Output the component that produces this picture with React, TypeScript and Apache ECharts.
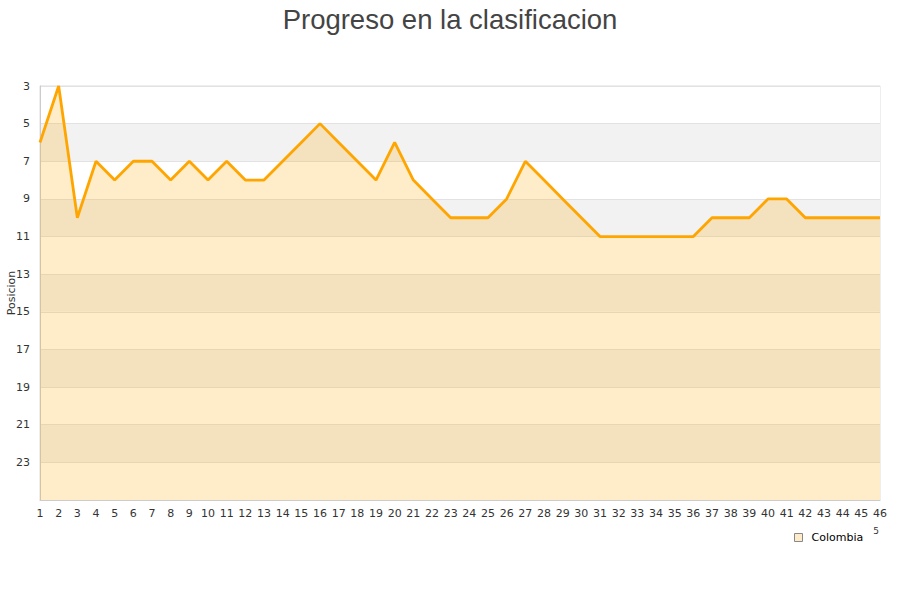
import React, { useEffect, useRef } from "react";
import * as echarts from "echarts";

const jornadas: string[] = Array.from({ length: 46 }, (_, i) => String(i + 1));
const posiciones: number[] = [
  6, 3, 10, 7, 8, 7, 7, 8, 7, 8,
  7, 8, 8, 7, 6, 5, 6, 7, 8, 6,
  8, 9, 10, 10, 10, 9, 7, 8, 9, 10,
  11, 11, 11, 11, 11, 11, 10, 10, 10, 9,
  9, 10, 10, 10, 10, 10,
];
const seriesName = "Colombia";
const titleText = "Progreso en la clasificacion";
const yAxisName = "Posicion";
const strayText = "5";

export default function App() {
  const ref = useRef<HTMLDivElement>(null);
  useEffect(() => {
    if (!ref.current) return;
    const chart = echarts.init(ref.current, undefined, { renderer: "svg" });
    chart.setOption({
      animation: false,
      backgroundColor: "#fff",
      title: {
        text: titleText,
        left: "center",
        top: 0,
        textStyle: {
          fontFamily: "Liberation Sans, Arial, sans-serif",
          fontSize: 27.5,
          fontWeight: "normal",
          color: "#444",
        },
      },
      graphic: [
        {
          type: "text",
          x: 11,
          y: 293,
          rotation: Math.PI / 2,
          style: {
            text: yAxisName,
            fontFamily: "DejaVu Sans",
            fontSize: 11,
            fill: "#333",
            align: "center",
            verticalAlign: "middle",
          },
        },
        {
          type: "text",
          x: 876,
          y: 531,
          style: {
            text: strayText,
            fontFamily: "DejaVu Sans",
            fontSize: 9,
            fill: "#333",
            align: "center",
            verticalAlign: "middle",
          },
        },
      ],
      legend: {
        data: [seriesName],
        left: 789,
        top: 527,
        icon: "rect",
        itemWidth: 8,
        itemHeight: 8,
        itemGap: 6,
        textStyle: {
          fontFamily: "DejaVu Sans",
          fontSize: 11,
          color: "#000",
          padding: [0, 0, 0, 4],
        },
        itemStyle: { color: "#feecc9", borderColor: "#888", borderWidth: 1 },
      },
      grid: {
        left: 40,
        right: 20,
        top: 86,
        bottom: 100,
        containLabel: false,
        outerBoundsMode: "none",
        show: true,
        borderColor: "#ddd",
        borderWidth: 1,
        backgroundColor: "transparent",
      },
      xAxis: {
        type: "category",
        data: jornadas,
        boundaryGap: false,
        axisLine: { lineStyle: { color: "#ccc" } },
        axisTick: { show: false },
        axisLabel: {
          interval: 0,
          fontFamily: "DejaVu Sans",
          fontSize: 11,
          color: "#333",
          margin: 8,
        },
        splitLine: { show: false },
      },
      yAxis: {
        type: "value",
        inverse: true,
        min: 3,
        max: 25,
        interval: 2,
        axisLine: { show: true, lineStyle: { color: "#ccc" } },
        axisTick: { show: false },
        axisLabel: {
          fontFamily: "DejaVu Sans",
          fontSize: 11,
          color: "#333",
          margin: 10,
          formatter: (v: number) => (v === 25 ? "" : String(v)),
        },
        splitLine: { show: true, lineStyle: { color: "#e2e2e2" } },
        splitArea: { show: true, areaStyle: { color: ["#ffffff", "#f2f2f2"] } },
      },
      series: [
        {
          name: seriesName,
          type: "line",
          data: posiciones,
          symbol: "none",
          lineStyle: { color: "#FFA500", width: 2.8 },
          itemStyle: { color: "#feecc9", borderColor: "#888" },
          areaStyle: { color: "rgba(255,165,0,0.21)", opacity: 1, origin: "end" },
        },
      ],
    });
    return () => chart.dispose();
  }, []);
  return (
    <div
      ref={ref}
      style={{ position: "fixed", left: 0, top: 0, width: 900, height: 600 }}
    />
  );
}
